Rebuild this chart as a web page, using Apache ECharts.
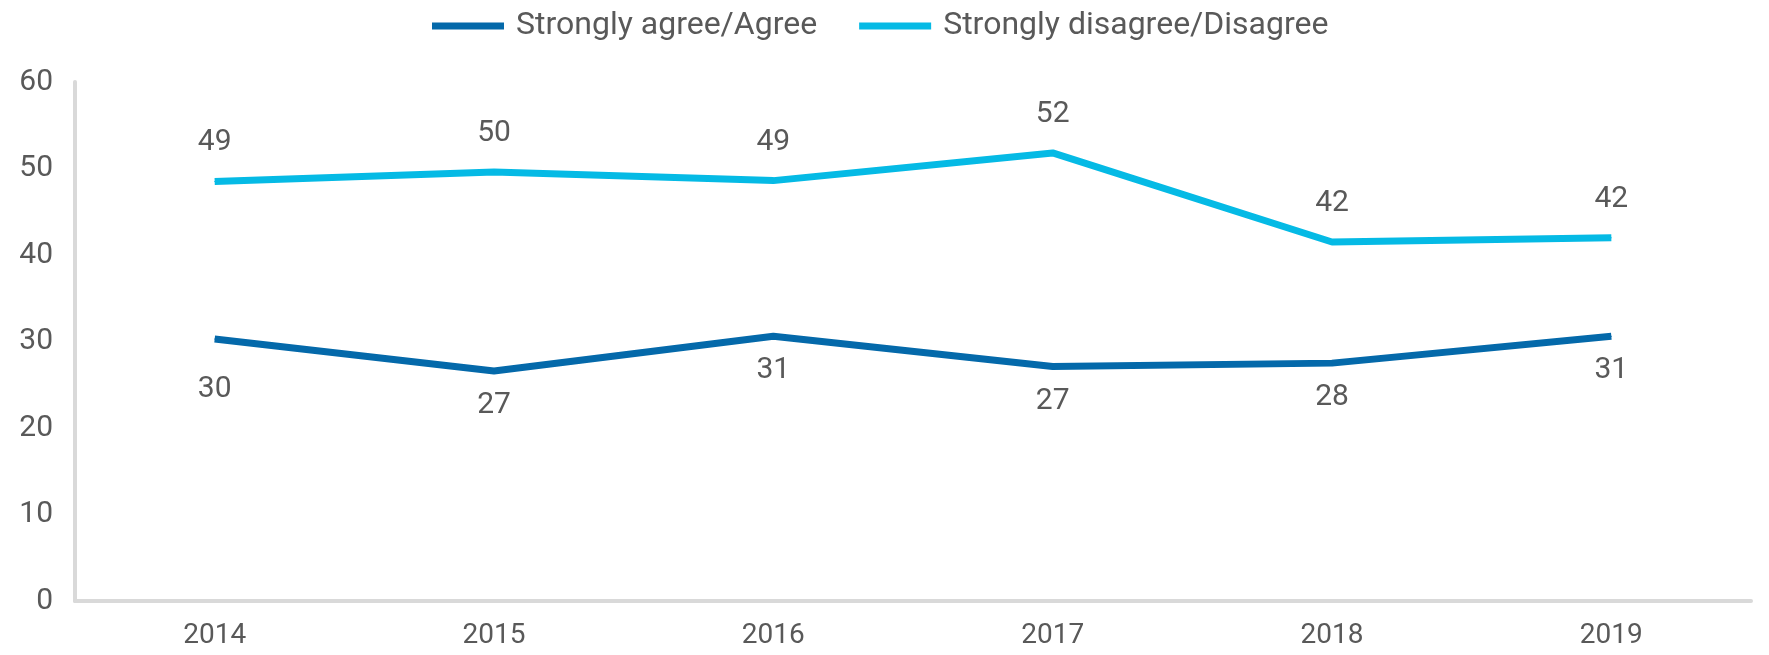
<!DOCTYPE html>
<html>
<head>
<meta charset="utf-8">
<script src="https://cdn.jsdelivr.net/npm/echarts@6/dist/echarts.min.js"></script>
<style>
html,body{margin:0;padding:0;background:#fff;}
#chartID{width:1769px;height:655px;}
</style>
</head>
<body>
<div id="chartID"></div>
<script>
//年份与两组数据
var yearArray=["2014","2015","2016","2017","2018","2019"];
var agreeArray=[30.3,26.6,30.6,27.1,27.5,30.6];
var disagreeArray=[48.5,49.6,48.6,51.8,41.5,42.0];
var seriesNameArray=["Strongly agree/Agree","Strongly disagree/Disagree"];

var textColor='#595959';
var fontName='Roboto';

function showChart(){
	var chart=echarts.init(document.getElementById('chartID'));
	//2014 的标签离线更远一点
	var agreeData=agreeArray.map(function(v,i){
		if(i==0){ return {value:v,label:{distance:35}}; }
		return v;
	});
	var option={
		color:['#0469AA','#05BAE5'],
		textStyle:{fontFamily:fontName},
		legend:{
			left:427,
			top:5,
			icon:'rect',
			itemWidth:72,
			itemHeight:7,
			itemGap:42,
			textStyle:{color:textColor,fontSize:32,fontFamily:fontName,padding:[0,0,0,7]},
			data:seriesNameArray
		},
		grid:{left:75,right:18,top:82,bottom:54,containLabel:false,outerBoundsMode:'none'},
		xAxis:{
			type:'category',
			data:yearArray,
			boundaryGap:true,
			axisLine:{lineStyle:{color:'#d9d9d9',width:4}},
			axisTick:{show:false},
			axisLabel:{color:textColor,fontSize:28,margin:21,fontFamily:fontName}
		},
		yAxis:{
			type:'value',
			min:0,
			max:60,
			interval:10,
			splitLine:{show:false},
			axisLine:{show:true,lineStyle:{color:'#d9d9d9',width:4}},
			axisTick:{show:false},
			axisLabel:{color:textColor,fontSize:30,margin:22,fontFamily:fontName}
		},
		series:[
			{
				name:seriesNameArray[0],
				type:'line',
				data:agreeData,
				symbol:'circle',
				symbolSize:1,
				lineStyle:{width:7},
				label:{
					show:true,
					position:'bottom',
					distance:19,
					color:textColor,
					fontSize:30,
					fontFamily:fontName,
					formatter:function(p){ return Math.round(p.value); }
				}
			},
			{
				name:seriesNameArray[1],
				type:'line',
				data:disagreeArray,
				symbol:'circle',
				symbolSize:1,
				lineStyle:{width:7},
				label:{
					show:true,
					position:'top',
					distance:23,
					color:textColor,
					fontSize:30,
					fontFamily:fontName,
					formatter:function(p){ return Math.round(p.value); }
				}
			}
		]
	};
	chart.setOption(option);
}
showChart();
</script>
</body>
</html>
